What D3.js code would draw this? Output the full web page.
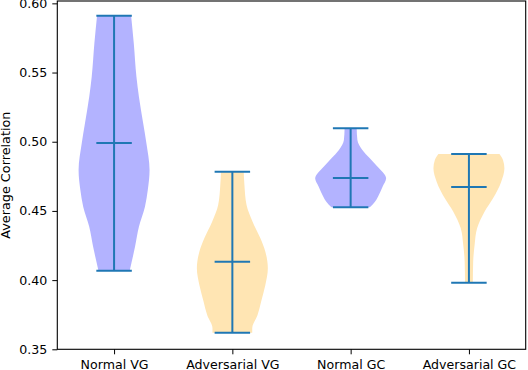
<!DOCTYPE html>
<html>
<head>
<meta charset="utf-8">
<script src="https://cdn.jsdelivr.net/npm/d3@7"></script>
<style>
  body { margin: 0; background: #fff; }
  text { font-family: "DejaVu Sans", sans-serif; }
</style>
</head>
<body>
<svg id="chart" width="528" height="370"></svg>
<script>
// Violin plot: average correlation, normal vs adversarial

var categories = ["Normal VG", "Adversarial VG", "Normal GC", "Adversarial GC"];
var fills = ["#b3b3ff", "#ffe5b3", "#b3b3ff", "#ffe5b3"];

// min / mean / max of each group
var mins  = [0.4068, 0.3620, 0.4526, 0.3981];
var means = [0.4991, 0.4133, 0.4738, 0.4673];
var maxs  = [0.5910, 0.4783, 0.5097, 0.4911];

// density profile: [value, relative half width]
var profile_normal_vg = [
	[0.5910, 0.48], [0.5711, 0.555], [0.5470, 0.63], [0.5325, 0.70],
	[0.5133, 0.82], [0.4991, 0.91], [0.4796, 1.00], [0.4651, 0.95],
	[0.4530, 0.87], [0.4386, 0.70], [0.4241, 0.59], [0.4068, 0.44]
];
var profile_adv_vg = [
	[0.4783, 0.32], [0.4687, 0.34], [0.4543, 0.40], [0.4422, 0.57],
	[0.4302, 0.79], [0.4205, 0.93], [0.4085, 1.00], [0.3965, 0.93],
	[0.3844, 0.81], [0.3748, 0.71], [0.3652, 0.56], [0.3620, 0.56]
];
var profile_normal_gc = [
	[0.5097, 0.17], [0.5012, 0.19], [0.4940, 0.33], [0.4880, 0.54],
	[0.4819, 0.76], [0.4781, 0.90], [0.4736, 1.00], [0.4675, 0.90],
	[0.4603, 0.77], [0.4564, 0.68], [0.4526, 0.54]
];
var profile_adv_gc = [
	[0.4911, 0.86], [0.4868, 0.96], [0.4808, 1.00], [0.4711, 0.91],
	[0.4591, 0.68], [0.4494, 0.44], [0.4374, 0.23], [0.4254, 0.16],
	[0.4133, 0.12], [0.3981, 0.11]
];
var profiles = [profile_normal_vg, profile_adv_vg, profile_normal_gc, profile_adv_gc];

var y_ticks = [0.35, 0.40, 0.45, 0.50, 0.55, 0.60];
var violin_width = 0.6;

var svg = d3.select("#chart");
var plot_left = 57.3, plot_right = 525.7, plot_top = 1, plot_bottom = 349.3;

var x = d3.scaleLinear().domain([0.52, 4.48]).range([plot_left, plot_right]);
var y = d3.scaleLinear().domain([0.35, 0.6017]).range([plot_bottom, plot_top]);
var line_color = "#1f77b4";

// violins
categories.forEach(function(c, i){
	var pos = i + 1;
	var area = d3.area()
		.y(d => y(d[0]))
		.x0(d => x(pos - d[1] * violin_width / 2))
		.x1(d => x(pos + d[1] * violin_width / 2))
		.curve(d3.curveMonotoneY);
	var pts = profiles[i].slice().sort((a, b) => b[0] - a[0]);
	svg.append("path")
		.attr("d", area(pts))
		.attr("fill", fills[i])
		.attr("stroke", "none");
});

// bars and caps
var g_lines = svg.append("g")
	.attr("stroke", line_color)
	.attr("stroke-width", 2)
	.attr("fill", "none");
categories.forEach(function(c, i){
	var pos = i + 1;
	var cap = violin_width / 4;
	g_lines.append("line")
		.attr("x1", x(pos)).attr("x2", x(pos))
		.attr("y1", y(mins[i])).attr("y2", y(maxs[i]));
	[mins[i], means[i], maxs[i]].forEach(function(v){
		g_lines.append("line")
			.attr("x1", x(pos - cap)).attr("x2", x(pos + cap))
			.attr("y1", y(v)).attr("y2", y(v));
	});
});

// axes
var x_axis = d3.axisBottom(x)
	.tickValues([1, 2, 3, 4])
	.tickFormat((d, i) => categories[i])
	.tickSize(5).tickPadding(6);
var y_axis = d3.axisLeft(y)
	.tickValues(y_ticks)
	.tickFormat(d3.format(".2f"))
	.tickSize(5).tickPadding(5);

var gx = svg.append("g").attr("transform", "translate(0," + plot_bottom + ")").call(x_axis);
var gy = svg.append("g").attr("transform", "translate(" + plot_left + ",0)").call(y_axis);
[gx, gy].forEach(function(g){
	g.select(".domain").remove();
	g.selectAll("text")
		.attr("fill", "#000")
		.style("font-family", "'DejaVu Sans', sans-serif")
		.style("font-size", "12.6px");
	g.selectAll(".tick line").attr("stroke", "#000").attr("stroke-width", 1);
});

// frame
svg.append("rect")
	.attr("x", plot_left).attr("y", plot_top)
	.attr("width", plot_right - plot_left).attr("height", plot_bottom - plot_top)
	.attr("fill", "none")
	.attr("stroke", "#000")
	.attr("stroke-width", 1.1);

svg.append("text")
	.attr("transform", "translate(6," + ((plot_top + plot_bottom) / 2) + ") rotate(-90)")
	.attr("text-anchor", "middle")
	.attr("dy", "0.35em")
	.style("font-size", "12.8px")
	.text("Average Correlation");
</script>
</body>
</html>
